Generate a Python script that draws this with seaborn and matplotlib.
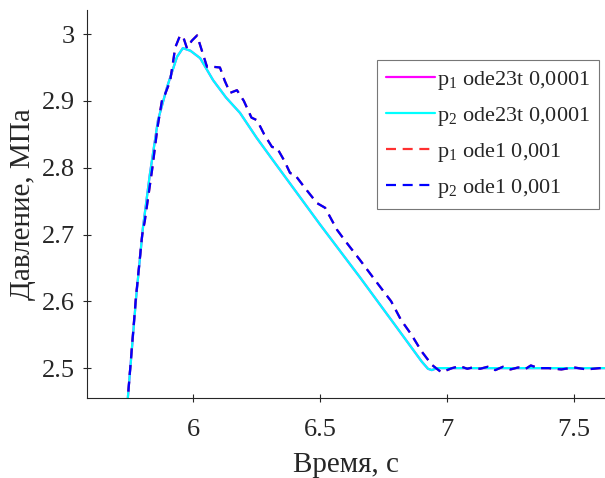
import matplotlib
matplotlib.use("Agg")
import matplotlib.pyplot as plt
import seaborn as sns
import pandas as pd

# cyan / magenta (ode23t, step 0.0001)
t_ode23t = [5.74, 5.776, 5.803, 5.83, 5.862, 5.898, 5.937, 5.96, 5.99, 6.028, 6.079, 6.13,
            6.185, 6.25, 6.315, 6.5, 6.657, 6.8, 6.9, 6.925, 6.94, 6.96, 7.0, 7.3, 7.63]
p_ode23t = [2.44, 2.606, 2.711, 2.79, 2.871, 2.921, 2.966, 2.979, 2.975, 2.964, 2.931, 2.905,
            2.882, 2.845, 2.811, 2.715, 2.636, 2.562, 2.51, 2.499, 2.497, 2.500, 2.500, 2.500, 2.500]

# red / blue (ode1, step 0.001)
t_ode1 = [5.74, 5.775, 5.80, 5.81, 5.84, 5.86, 5.88, 5.89, 5.91, 5.93, 5.949, 5.962, 5.976,
          5.995, 6.016, 6.035, 6.055, 6.08, 6.106, 6.125, 6.146, 6.173, 6.2, 6.23, 6.252,
          6.28, 6.311, 6.33, 6.36, 6.382, 6.40, 6.44, 6.488, 6.52, 6.567, 6.6, 6.657, 6.72,
          6.78, 6.819, 6.86, 6.90, 6.94, 6.97, 6.98, 7.0, 7.02, 7.05, 7.08, 7.10, 7.13, 7.16,
          7.19, 7.22, 7.25, 7.28, 7.31, 7.33, 7.36, 7.40, 7.45, 7.50, 7.55, 7.60, 7.63]
p_ode1 = [2.44, 2.605, 2.70, 2.72, 2.80, 2.86, 2.906, 2.91, 2.93, 2.98, 2.998, 2.995, 2.979,
          2.99, 2.998, 2.975, 2.951, 2.951, 2.95, 2.93, 2.912, 2.916, 2.9, 2.875, 2.871,
          2.85, 2.831, 2.83, 2.81, 2.792, 2.79, 2.77, 2.747, 2.74, 2.707, 2.69, 2.662, 2.63,
          2.60, 2.572, 2.55, 2.525, 2.505, 2.496, 2.494, 2.497, 2.5, 2.503, 2.499, 2.501, 2.499, 2.502,
          2.497, 2.502, 2.498, 2.501, 2.499, 2.504, 2.500, 2.500, 2.498, 2.501, 2.498, 2.500, 2.500]

labels = ["p$_1$ ode23t 0,0001", "p$_2$ ode23t 0,0001", "p$_1$ ode1 0,001", "p$_2$ ode1 0,001"]
x_ticks = [6, 6.5, 7, 7.5]
x_tick_labels = ["6", "6.5", "7", "7.5"]
y_ticks = [2.5, 2.6, 2.7, 2.8, 2.9, 3.0]
y_tick_labels = ["2.5", "2.6", "2.7", "2.8", "2.9", "3"]

sns.set_style("ticks")
plt.rcParams["font.family"] = ["Liberation Serif", "DejaVu Serif"]
plt.rcParams["mathtext.fontset"] = "custom"
plt.rcParams["mathtext.rm"] = "Liberation Serif"
plt.rcParams["mathtext.it"] = "Liberation Serif:italic"

df_a = pd.DataFrame({"t": t_ode23t, "p": p_ode23t})
df_b = pd.DataFrame({"t": t_ode1, "p": p_ode1})

fig = plt.figure(figsize=(6.05, 4.78), dpi=100)
ax = fig.add_axes([0.144, 0.167, 0.856, 0.812])

sns.lineplot(data=df_a, x="t", y="p", ax=ax, color="#ff00ff", lw=1.6, label=labels[0], sort=False)
sns.lineplot(data=df_a, x="t", y="p", ax=ax, color="#00ffff", lw=1.6, label=labels[1], sort=False)
sns.lineplot(data=df_b, x="t", y="p", ax=ax, color="#ff3030", lw=1.6, label=labels[2], sort=False)
sns.lineplot(data=df_b, x="t", y="p", ax=ax, color="#0000ff", lw=1.6, label=labels[3], sort=False)
for line in ax.get_lines()[2:]:
    line.set_linestyle((0, (4.5, 3)))

ax.set_xlim(5.583, 7.622)
ax.set_ylim(2.455, 3.036)
ax.set_xticks(x_ticks)
ax.set_xticklabels(x_tick_labels)
ax.set_yticks(y_ticks)
ax.set_yticklabels(y_tick_labels)
ax.tick_params(direction="inout", length=6, width=0.8, labelsize=19, colors="#262626")
ax.tick_params(axis="x", pad=12)
ax.tick_params(axis="y", pad=6)
for s in ["top", "right"]:
    ax.spines[s].set_visible(False)
for s in ["left", "bottom"]:
    ax.spines[s].set_color("#262626")
    ax.spines[s].set_linewidth(0.8)

ax.set_xlabel("Время, с", fontsize=21, color="#262626", labelpad=8)
ax.set_ylabel("Давление, МПа", fontsize=21, color="#262626", labelpad=4)

leg = ax.legend(loc="upper right", bbox_to_anchor=(0.99, 0.874), bbox_transform=fig.transFigure,
                fontsize=16, frameon=True, fancybox=False, handlelength=2.2, handletextpad=0.1,
                borderaxespad=0, labelspacing=0.58, borderpad=0.4)
leg.get_frame().set_edgecolor("#555555")
leg.get_frame().set_linewidth(0.8)

fig.savefig("out.png", dpi=100)
